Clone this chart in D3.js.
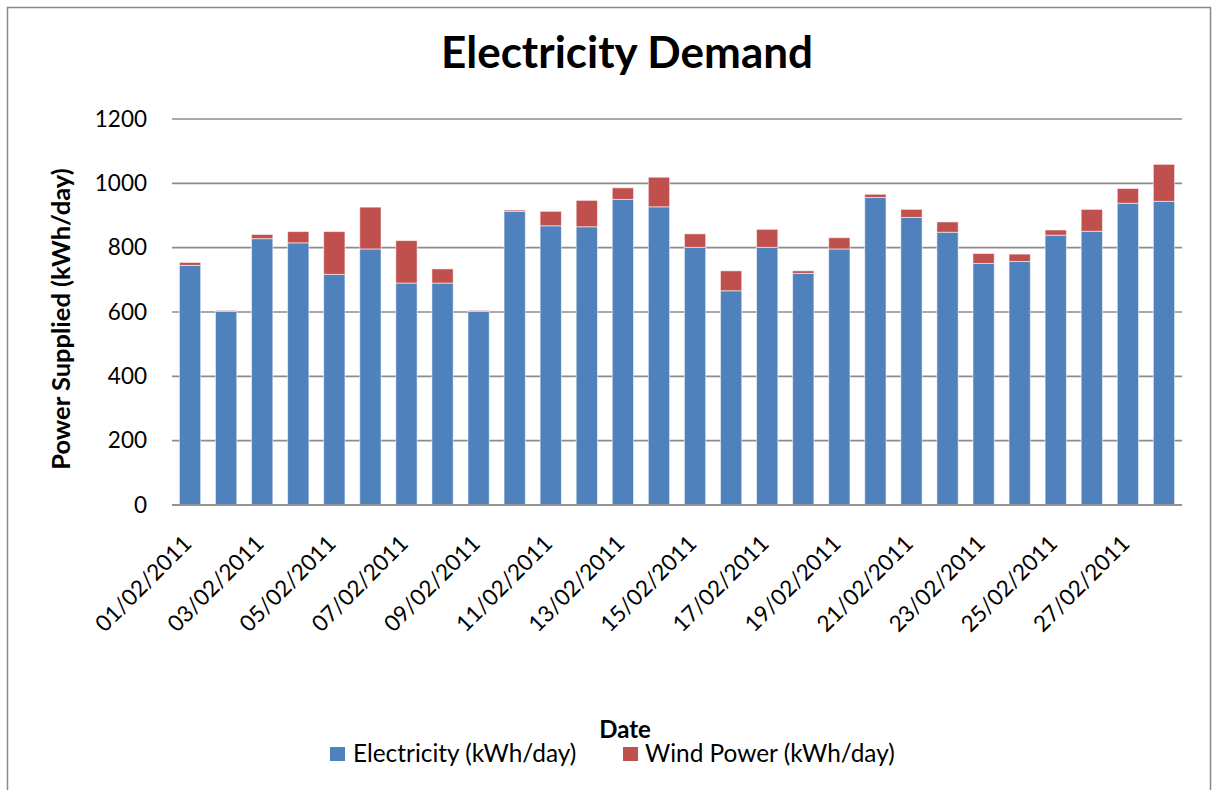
<!DOCTYPE html>
<html><head><meta charset="utf-8">
<script src="https://cdn.jsdelivr.net/npm/d3@7"></script>
<style>body{margin:0;background:#fff}svg{display:block}text{font-family:Lato,"Open Sans",sans-serif}</style>
</head><body><svg id="c" width="1213" height="790"></svg>
<script>
const dates = ["01/02/2011","02/02/2011","03/02/2011","04/02/2011","05/02/2011","06/02/2011","07/02/2011","08/02/2011","09/02/2011","10/02/2011","11/02/2011","12/02/2011","13/02/2011","14/02/2011","15/02/2011","16/02/2011","17/02/2011","18/02/2011","19/02/2011","20/02/2011","21/02/2011","22/02/2011","23/02/2011","24/02/2011","25/02/2011","26/02/2011","27/02/2011","28/02/2011"];
const electricity = [745,602,828,815,717,796,690,690,602,913,868,865,950,927,801,666,801,720,796,956,894,848,751,757,839,851,938,944];
const wind = [9,3,13,35,133,130,132,44,3,4,45,82,36,92,42,62,56,8,35,10,25,32,31,23,16,68,46,115];
const yTicks = [0,200,400,600,800,1000,1200];
const seriesNames = ["Electricity (kWh/day)","Wind Power (kWh/day)"];
const colors = ["#4F81BD","#C0504D"];

const svg = d3.select("#c");
const L=172,R=1182,T=119,B=505;
svg.append("rect").attr("x",7.5).attr("y",7.5).attr("width",1203).attr("height",790).attr("fill","#fff").attr("stroke","#888").attr("stroke-width",1.5);

const x = d3.scaleBand().domain(dates).range([L,R]).paddingInner(0.41).paddingOuter(0.205);
const y = d3.scaleLinear().domain([0,1200]).range([B,T]);

svg.append("g").selectAll("line").data(yTicks).join("line")
  .attr("x1",L).attr("x2",R).attr("y1",d=>y(d)).attr("y2",d=>y(d))
  .attr("stroke","#8c8c8c").attr("stroke-width",1.6);

const rows = dates.map((d,i)=>({date:d,e:electricity[i],w:wind[i]}));
const stack = d3.stack().keys(["e","w"])(rows);
svg.append("g").selectAll("g").data(stack).join("g").attr("fill",(d,i)=>colors[i])
  .selectAll("rect").data(d=>d).join("rect")
  .attr("x",d=>x(d.data.date)).attr("width",x.bandwidth())
  .attr("y",d=>y(d[1])).attr("height",d=>y(d[0])-y(d[1]))
  .attr("stroke","rgba(255,255,255,0.55)").attr("stroke-width",1);

const ya = svg.append("g").attr("transform",`translate(${L},0)`)
  .call(d3.axisLeft(y).tickValues(yTicks).tickFormat(d3.format("d")).tickSize(0).tickPadding(25));
ya.select(".domain").remove();
ya.selectAll("text").attr("font-size",22.5).attr("fill","#000").attr("font-family","Lato, sans-serif");

svg.append("line").attr("x1",L).attr("x2",R).attr("y1",B).attr("y2",B).attr("stroke","#8c8c8c").attr("stroke-width",1.6);
const xa = svg.append("g").attr("transform",`translate(0,${B})`)
  .call(d3.axisBottom(x).tickValues(dates.filter((d,i)=>i%2===0)).tickSize(0));
xa.select(".domain").remove();
xa.selectAll("text").attr("font-size",22.5).attr("fill","#000").attr("font-family","Lato, sans-serif")
  .attr("text-anchor","end").attr("dy",0).attr("y",0)
  .attr("transform","translate(3,40) rotate(-45)");

svg.append("text").attr("x",627).attr("y",68).attr("text-anchor","middle").attr("font-size",44).attr("font-weight","bold").text("Electricity Demand");
svg.append("text").attr("transform","translate(70,319) rotate(-90)").attr("text-anchor","middle").attr("font-size",25.5).attr("font-weight","bold").text("Power Supplied (kWh/day)");
svg.append("text").attr("x",625).attr("y",738).attr("text-anchor","middle").attr("font-size",24).attr("font-weight","bold").text("Date");

const lg = svg.append("g");
const lx = [330,623];
seriesNames.forEach((n,i)=>{
  lg.append("rect").attr("x",lx[i]).attr("y",747).attr("width",15).attr("height",14).attr("fill",colors[i]);
  lg.append("text").attr("x",lx[i]+(i===0?23:22)).attr("y",762).attr("font-size",24.4).text(n);
});
</script></body></html>
